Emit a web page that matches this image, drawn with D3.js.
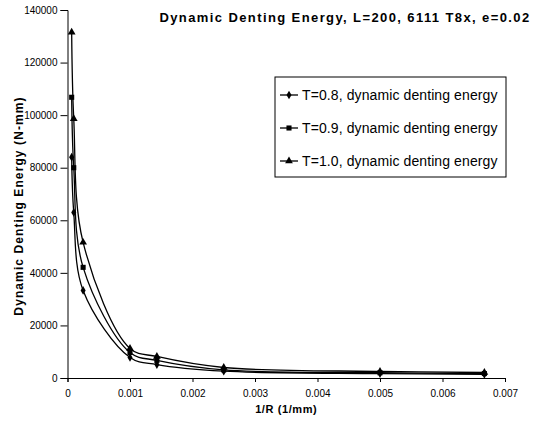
<!DOCTYPE html>
<html>
<head>
<meta charset="utf-8">
<script src="https://cdn.jsdelivr.net/npm/d3@7"></script>
<style>
  body { margin: 0; background: #fff; }
  svg { font-family: "Liberation Sans", Arial, sans-serif; }
  .axis path, .axis line { stroke: #000; }
  .axis text { font-size: 10px; fill: #000; }
</style>
</head>
<body>
<svg width="546" height="423"></svg>
<script>
// 1/R values (1/mm)
var invR = [0.0000667, 0.0001, 0.00025, 0.001, 0.00143, 0.0025, 0.005, 0.00667];

// dynamic denting energy (N-mm) per thickness
var energyT08 = [84000, 63000, 33300, 7800, 5100, 2600, 1700, 1400];
var energyT09 = [106800, 80000, 42100, 9700, 6700, 3100, 2000, 1700];
var energyT10 = [131500, 98600, 51600, 11200, 8200, 4000, 2500, 2100];

var seriesNames = ["T=0.8, dynamic denting energy",
                   "T=0.9, dynamic denting energy",
                   "T=1.0, dynamic denting energy"];
var seriesShapes = ["diamond", "square", "triangle"];

var xTicks = [0, 0.001, 0.002, 0.003, 0.004, 0.005, 0.006, 0.007];
var yTicks = [0, 20000, 40000, 60000, 80000, 100000, 120000, 140000];

var svg = d3.select("svg"),
    margin = {top: 10, right: 41, bottom: 45, left: 67.5},
    width = +svg.attr("width") - margin.left - margin.right,
    height = +svg.attr("height") - margin.top - margin.bottom,
    g = svg.append("g").attr("transform", "translate(" + margin.left + "," + margin.top + ")");

var x = d3.scaleLinear().domain([0, 0.007]).range([0, width]);
var y = d3.scaleLinear().domain([0, 140000]).range([height, 0]);

var series = [energyT08, energyT09, energyT10].map(function(vals, i) {
    return {name: seriesNames[i], shape: seriesShapes[i],
            values: vals.map(function(v, j) { return {x: invR[j], y: v}; })};
});

// smoothed line
var line = d3.line()
    .x(function(d) { return x(d.x); })
    .y(function(d) { return y(d.y); })
    .curve(d3.curveCatmullRom.alpha(0.5));

var symbols = {
    diamond: d3.symbol().type(d3.symbolDiamond).size(22),
    square: d3.symbol().type(d3.symbolSquare).size(26),
    triangle: d3.symbol().type(d3.symbolTriangle).size(26)
};

// axes
g.append("g")
    .attr("class", "axis")
    .attr("transform", "translate(0," + height + ")")
    .call(d3.axisBottom(x).tickValues(xTicks).tickSize(4).tickPadding(8)
        .tickFormat(function(d) { return d === 0 ? "0" : d3.format(".3f")(d); }));

g.append("g")
    .attr("class", "axis")
    .call(d3.axisLeft(y).tickValues(yTicks).tickSize(7).tickPadding(3)
        .tickFormat(d3.format("d")));

// lines + markers
var s = g.selectAll(".series")
    .data(series)
  .enter().append("g")
    .attr("class", "series");

s.append("path")
    .attr("fill", "none")
    .attr("stroke", "#000")
    .attr("stroke-width", 1.3)
    .attr("d", function(d) { return line(d.values); });

s.each(function(d) {
    d3.select(this).selectAll("path.pt")
        .data(d.values)
      .enter().append("path")
        .attr("class", "pt")
        .attr("fill", "#000")
        .attr("transform", function(p) { return "translate(" + x(p.x) + "," + y(p.y) + ")"; })
        .attr("d", symbols[d.shape]);
});

// title
svg.append("text")
    .attr("x", 345)
    .attr("y", 22)
    .attr("text-anchor", "middle")
    .attr("font-size", "13px")
    .attr("font-weight", "bold")
    .attr("letter-spacing", "1.4px")
    .text("Dynamic Denting Energy, L=200, 6111 T8x, e=0.02");

// axis titles
svg.append("text")
    .attr("x", margin.left + width / 2)
    .attr("y", 413)
    .attr("text-anchor", "middle")
    .attr("font-size", "11px")
    .attr("font-weight", "bold")
    .attr("letter-spacing", "0.6px")
    .text("1/R (1/mm)");

svg.append("text")
    .attr("transform", "translate(23,206) rotate(-90)")
    .attr("text-anchor", "middle")
    .attr("font-size", "12px")
    .attr("font-weight", "bold")
    .attr("letter-spacing", "1.1px")
    .text("Dynamic Denting Energy (N-mm)");

// legend
var legend = svg.append("g").attr("transform", "translate(275,77)");
legend.append("rect")
    .attr("width", 231).attr("height", 100)
    .attr("fill", "#fff").attr("stroke", "#000").attr("stroke-width", 1);

var li = legend.selectAll(".li")
    .data(series)
  .enter().append("g")
    .attr("class", "li")
    .attr("transform", function(d, i) { return "translate(0," + (18 + i * 33) + ")"; });

li.append("line")
    .attr("x1", 5).attr("x2", 23)
    .attr("stroke", "#000").attr("stroke-width", 1.3);
li.append("path")
    .attr("transform", "translate(14,0)")
    .attr("d", function(d) { return symbols[d.shape](); });
li.append("text")
    .attr("x", 27)
    .attr("dy", "0.35em")
    .attr("font-size", "14px")
    .attr("letter-spacing", "0.1px")
    .text(function(d) { return d.name; });
</script>
</body>
</html>
